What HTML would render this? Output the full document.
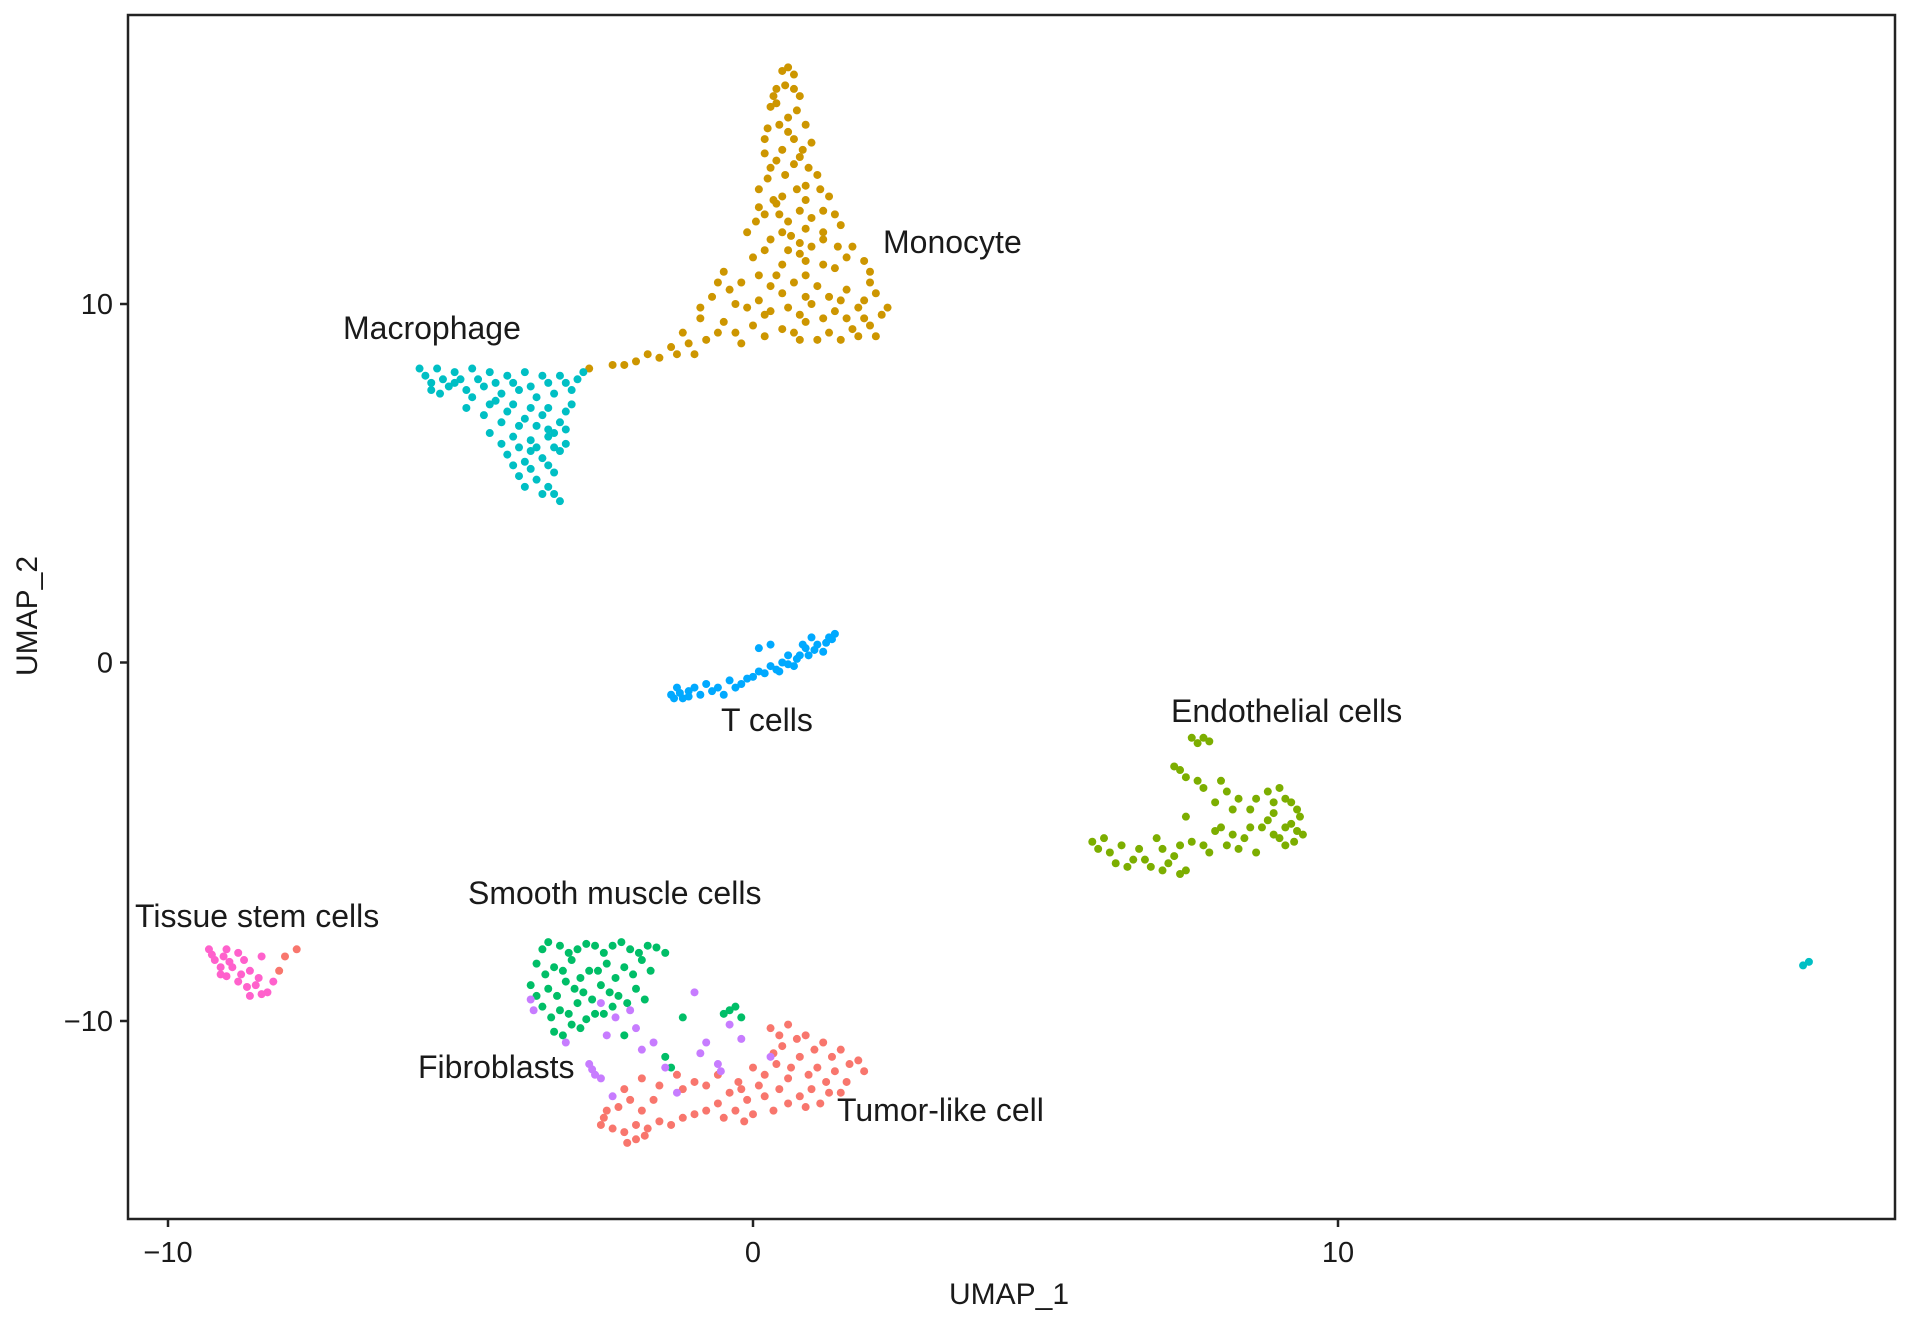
<!DOCTYPE html>
<html><head><meta charset="utf-8"><style>
html,body{margin:0;padding:0;background:#fff;}
svg{display:block;font-family:"Liberation Sans",Arial,sans-serif;}
</style></head><body>
<svg id="chart" width="1913" height="1320" viewBox="0 0 1913 1320">
<rect x="0" y="0" width="1913" height="1320" fill="#fff"/>
<g id="points"></g>
<rect x="128" y="15" width="1767" height="1204" fill="none" stroke="#222" stroke-width="2.5"/>
<g id="axes"></g>
<g font-size="32" fill="#1a1a1a">
<text x="883" y="253">Monocyte</text>
<text x="343" y="339">Macrophage</text>
<text x="721" y="731">T cells</text>
<text x="1171" y="722">Endothelial cells</text>
<text x="468" y="904">Smooth muscle cells</text>
<text x="135" y="927">Tissue stem cells</text>
<text x="418" y="1078">Fibroblasts</text>
<text x="837" y="1121">Tumor-like cell</text>
</g>
<text x="1009" y="1304" font-size="30" text-anchor="middle" fill="#1a1a1a">UMAP_1</text>
<text transform="translate(37,616) rotate(-90)" font-size="30" text-anchor="middle" fill="#1a1a1a">UMAP_2</text>
</svg>
<script>
const xTicks = [-10, 0, 10];
const yTicks = [10, 0, -10];
const monocyte = [[0.5,16.5],[0.7,16.4],[0.4,16],[0.8,15.8],[0.3,15.5],[0.6,15.2],[0.9,15],[0.2,14.6],[0.5,14.3],[1.0,14.5],[0.3,13.8],[0.7,13.9],[1.1,13.6],[0.1,13.2],[0.5,13],[0.9,12.9],[1.3,13],[0.2,12.5],[0.6,12.3],[1.0,12.4],[1.5,12.2],[-0.1,12],[0.3,11.8],[0.8,11.7],[1.2,11.8],[1.7,11.6],[0,11.3],[0.5,11.1],[0.9,11.2],[1.4,11.0],[1.9,11.2],[-0.5,10.9],[-0.2,10.6],[0.3,10.5],[0.7,10.6],[1.1,10.5],[1.6,10.4],[2.0,10.6],[-0.7,10.2],[-0.3,10.0],[0.1,10.1],[0.6,9.9],[1.0,10],[1.4,9.8],[1.8,9.9],[2.2,9.7],[-0.9,9.6],[-0.5,9.5],[0.0,9.4],[0.5,9.3],[0.9,9.5],[1.3,9.2],[1.7,9.3],[2.1,9.1],[-1.2,9.2],[-0.8,9.0],[-1.4,8.8],[-1.0,8.6],[0.8,9.0],[1.5,9.0],[-1.6,8.5],[-2.0,8.4],[-2.4,8.3],[-2.8,8.2],[0.4,15.6],[0.6,14.8],[0.8,14.1],[0.4,12.8],[1.2,12.0],[0.1,10.8],[0.7,16.0],[0.4,14.0],[0.9,13.3],[0.6,11.5],[1.3,10.2],[0.2,9.7],[1.9,10.1],[0.5,12.0],
[0.6,16.6],[0.55,16.1],[0.35,15.8],[0.75,15.4],[0.45,15.0],[0.25,14.9],[0.7,14.6],[0.85,14.3],[0.2,14.2],[0.55,13.6],[0.95,13.8],[0.25,13.5],[0.75,13.2],[1.15,13.2],[0.35,12.9],[0.1,12.7],[0.8,12.6],[1.2,12.6],[0.45,12.5],[0.9,12.1],[1.4,12.5],[0.05,12.3],[0.65,11.9],[1.0,11.6],[1.45,11.6],[0.2,11.5],[0.8,11.4],[1.6,11.3],[2.0,10.9],[1.2,11.1],[0.4,10.8],[0.9,10.8],[-0.4,10.4],[0.5,10.3],[0.9,10.2],[1.5,10.1],[2.1,10.3],[-0.1,9.9],[0.3,9.8],[0.8,9.7],[1.2,9.6],[1.6,9.6],[2.3,9.9],[-0.3,9.2],[0.2,9.1],[0.7,9.2],[1.1,9.0],[1.9,9.6],[2.0,9.4],[-0.6,9.2],[-1.1,8.9],[-0.2,8.9],[1.8,9.1],[-1.8,8.6],[-2.2,8.3],[-1.3,8.6],[-0.6,10.6],[-0.9,9.9]];
const macrophage = [[-5.7,8.2],[-5.4,8.2],[-5.1,8.1],[-4.8,8.2],[-4.5,8.1],[-4.2,8.0],[-3.9,8.1],[-3.6,8.0],[-3.3,8.0],[-3.0,7.9],[-5.5,7.8],[-5.2,7.7],[-4.9,7.6],[-4.6,7.7],[-4.3,7.5],[-4.0,7.6],[-3.7,7.4],[-3.4,7.5],[-3.1,7.2],[-4.9,7.1],[-4.6,6.9],[-4.2,7.0],[-3.9,6.8],[-3.6,6.9],[-3.3,6.7],[-4.5,6.4],[-4.1,6.3],[-3.8,6.2],[-3.5,6.3],[-3.2,6.1],[-4.2,5.8],[-3.9,5.6],[-3.6,5.7],[-3.3,5.9],[-4.0,5.2],[-3.7,5.1],[-3.4,5.3],[-3.6,4.7],[-3.3,4.5],[-3.1,7.6],[-4.4,7.3],[-5.0,7.9],[-3.5,6.5],[-3.8,5.9],
[-5.6,8.0],[-5.3,7.9],[-5.5,7.6],[-5.35,7.5],[-5.1,7.8],[-4.7,7.9],[-4.4,7.8],[-4.1,7.8],[-3.8,7.7],[-3.5,7.8],[-3.2,7.8],[-2.9,8.1],[-4.8,7.4],[-4.5,7.2],[-4.1,7.2],[-3.8,7.1],[-3.5,7.1],[-3.2,7.0],[-4.3,6.7],[-4.0,6.6],[-3.7,6.6],[-3.4,6.4],[-3.2,6.5],[-4.3,6.1],[-4.0,6.0],[-3.7,6.0],[-3.4,6.0],[-4.1,5.5],[-3.8,5.4],[-3.5,5.5],[-3.9,4.9],[-3.5,4.9],[-3.4,4.7],[17.95,-8.45],[18.05,-8.35]];
const tCells = [[-1.4,-0.9],[-1.3,-0.7],[-1.1,-0.8],[-0.9,-0.9],[-0.8,-0.6],[-0.6,-0.7],[-0.4,-0.5],[-0.2,-0.6],[0,-0.4],[0.2,-0.3],[0.4,-0.2],[0.5,0],[0.7,-0.1],[0.8,0.2],[0.9,0.4],[1.1,0.5],[1.2,0.3],[1.4,0.8],[1.3,0.7],[0.1,0.4],[0.3,0.5],[-1.2,-1],[-0.5,-0.9],[0.6,0.2],[1.0,0.7],
[-1.35,-1.0],[-1.25,-0.85],[-1.0,-0.7],[-0.7,-0.8],[-0.3,-0.7],[-0.1,-0.45],[0.1,-0.25],[0.3,-0.1],[0.45,-0.25],[0.6,-0.05],[0.75,0.1],[0.95,0.2],[1.05,0.35],[1.25,0.55],[1.35,0.65],[-1.1,-0.95],[0.85,0.5]];
const endothelial = [[7.5,-2.1],[7.8,-2.2],[7.2,-2.9],[7.4,-3.2],[7.7,-3.5],[8.0,-3.3],[7.9,-3.9],[8.3,-3.8],[8.5,-4.1],[8.8,-3.6],[9.1,-3.8],[9.3,-4.1],[9.2,-4.5],[9.4,-4.8],[9.0,-4.9],[8.7,-4.6],[8.4,-4.9],[8.1,-5.1],[7.8,-5.3],[7.5,-5.0],[7.2,-5.4],[7.0,-5.8],[6.7,-5.5],[6.4,-5.7],[6.1,-5.3],[5.8,-5.0],[6.0,-4.9],[6.9,-4.9],[7.4,-4.3],[8.9,-4.2],[9.1,-5.1],[7.3,-5.9],[6.6,-5.2],[8.6,-5.3],
[7.6,-2.25],[7.7,-2.1],[7.3,-3.0],[7.6,-3.3],[8.1,-3.6],[8.2,-4.1],[8.6,-3.8],[8.9,-3.9],[9.0,-3.5],[9.2,-3.9],[9.35,-4.3],[9.3,-4.7],[9.1,-4.6],[8.9,-4.8],[9.25,-5.0],[8.8,-4.4],[8.5,-4.6],[8.2,-4.8],[7.9,-4.7],[7.7,-5.1],[7.3,-5.1],[7.1,-5.6],[6.8,-5.7],[6.5,-5.5],[6.2,-5.6],[5.9,-5.2],[6.3,-5.1],[7.0,-5.2],[7.4,-5.8],[8.3,-5.2],[8.0,-4.6]];
const smoothMuscle = [[-3.6,-8.0],[-3.3,-7.9],[-3.0,-8.0],[-2.7,-7.9],[-2.4,-7.9],[-2.1,-8.0],[-1.8,-7.9],[-1.5,-8.1],[-3.7,-8.4],[-3.4,-8.5],[-3.1,-8.3],[-2.8,-8.6],[-2.5,-8.4],[-2.2,-8.5],[-1.9,-8.3],[-3.8,-9.0],[-3.5,-9.1],[-3.2,-8.9],[-2.9,-9.2],[-2.6,-9.0],[-2.3,-9.3],[-2.0,-9.1],[-3.6,-9.6],[-3.3,-9.7],[-3.0,-9.5],[-2.7,-9.8],[-2.4,-9.6],[-3.4,-10.3],[-3.1,-10.1],[-0.4,-9.7],[-0.2,-9.9],[-1.5,-11.0],[-2.2,-10.4],
[-3.5,-7.8],[-3.15,-8.1],[-2.85,-7.85],[-2.55,-8.1],[-2.25,-7.8],[-1.95,-8.1],[-1.65,-7.95],[-3.55,-8.7],[-3.25,-8.6],[-2.95,-8.8],[-2.65,-8.6],[-2.35,-8.8],[-2.05,-8.7],[-1.75,-8.6],[-3.7,-9.3],[-3.35,-9.3],[-3.05,-9.1],[-2.75,-9.4],[-2.45,-9.2],[-2.15,-9.5],[-1.85,-9.4],[-3.45,-9.9],[-3.15,-9.8],[-2.85,-9.95],[-2.55,-9.8],[-3.25,-10.4],[-2.95,-10.2],[-0.5,-9.8],[-0.3,-9.6],[-1.4,-11.3],[-1.2,-9.9]];
const fibroblasts = [[-3.8,-9.4],[-3.2,-10.6],[-2.8,-11.2],[-2.7,-11.5],[-2.5,-10.4],[-2.1,-9.7],[-1.9,-10.8],[-1.5,-11.3],[-1.0,-9.2],[-0.8,-10.6],[-0.6,-11.2],[-0.4,-10.1],[-2.4,-12.1],[-1.3,-12.0],[0.3,-11.0],
[-3.75,-9.7],[-2.75,-11.35],[-2.6,-11.6],[-2.35,-9.9],[-2.0,-10.2],[-1.7,-10.6],[-0.9,-10.9],[-0.55,-11.4],[-2.6,-9.5],[-0.2,-10.5]];
const tumor = [[0.3,-10.2],[0.6,-10.1],[0.9,-10.4],[1.2,-10.6],[1.5,-10.8],[1.8,-11.1],[0.5,-10.7],[0.8,-11.0],[1.1,-11.3],[1.4,-11.4],[1.6,-11.7],[0.2,-11.5],[0.6,-11.6],[1.0,-11.9],[1.3,-12.0],[-0.2,-11.9],[0.2,-12.1],[0.6,-12.3],[-0.6,-12.3],[-0.3,-12.5],[0.0,-12.6],[-1.0,-12.6],[-1.4,-12.9],[-1.8,-13.0],[-2.2,-13.1],[-2.6,-12.9],[-2.5,-12.5],[-1.9,-12.5],[-1.0,-11.7],[-0.6,-11.5],[-1.6,-11.8],[-2.2,-11.9],[-2.0,-13.3],[-0.4,-12.0],[0.9,-12.4],[0.4,-11.2],[-8.0,-8.2],[-7.8,-8.0],[-8.1,-8.6],
[0.45,-10.4],[0.75,-10.5],[1.05,-10.8],[1.35,-11.0],[1.65,-11.2],[1.9,-11.4],[0.35,-10.9],[0.65,-11.3],[0.95,-11.5],[1.25,-11.7],[1.5,-12.0],[0.1,-11.8],[0.45,-11.9],[0.8,-12.1],[1.15,-12.3],[-0.1,-12.2],[0.35,-12.5],[-0.8,-12.5],[-0.5,-12.7],[-0.15,-12.8],[-1.2,-12.7],[-1.6,-12.8],[-2.0,-12.9],[-2.4,-13.0],[-2.55,-12.7],[-2.3,-12.4],[-1.7,-12.2],[-1.2,-11.9],[-0.8,-11.8],[-1.3,-11.5],[-1.9,-11.6],[-2.1,-12.2],[-1.85,-13.2],[-2.15,-13.4],[-0.25,-11.7],[0.0,-11.3]];
const tissueStem = [[-9.3,-8.0],[-9.0,-8.0],[-8.8,-8.1],[-9.2,-8.3],[-8.9,-8.5],[-8.6,-8.6],[-8.8,-8.9],[-8.5,-9.0],[-8.3,-9.2],[-8.6,-9.3],[-8.4,-8.2],[-9.1,-8.7],
[-9.25,-8.15],[-9.05,-8.2],[-8.95,-8.35],[-9.1,-8.5],[-8.75,-8.7],[-8.45,-8.8],[-8.65,-9.05],[-8.4,-9.25],[-8.2,-8.9],[-9.0,-8.75],[-8.7,-8.3]];

const NS = 'http://www.w3.org/2000/svg';
function xs(v){ return 753 + v * 58.5; }
function ys(v){ return 662.5 - v * 35.85; }
const groups = [
  ['monocyte', monocyte, '#CD9600'],
  ['macrophage', macrophage, '#00BFC4'],
  ['t-cells', tCells, '#00A9FF'],
  ['endothelial', endothelial, '#7CAE00'],
  ['smooth-muscle', smoothMuscle, '#00BE67'],
  ['tumor-like', tumor, '#F8766D'],
  ['fibroblasts', fibroblasts, '#C77CFF'],
  ['tissue-stem', tissueStem, '#FF61CC']
];
const layer = document.getElementById('points');
groups.forEach(function(g){
  const gg = document.createElementNS(NS, 'g');
  
  
  g[1].forEach(function(p){
    const c = document.createElementNS(NS, 'circle');
    c.setAttribute('cx', xs(p[0]));
    c.setAttribute('cy', ys(p[1]));
    c.setAttribute('r', 4);
    c.setAttribute('fill', g[2]);
    
    
    gg.appendChild(c);
  });
  layer.appendChild(gg);
});
const axes = document.getElementById('axes');
xTicks.forEach(function(t){
  const l = document.createElementNS(NS, 'line');
  l.setAttribute('x1', xs(t)); l.setAttribute('x2', xs(t));
  l.setAttribute('y1', 1219); l.setAttribute('y2', 1227);
  l.setAttribute('stroke', '#222'); l.setAttribute('stroke-width', 2.5);
  
  
  axes.appendChild(l);
  const tx = document.createElementNS(NS, 'text');
  tx.setAttribute('x', xs(t)); tx.setAttribute('y', 1262);
  tx.setAttribute('font-size', 29); tx.setAttribute('text-anchor', 'middle'); tx.setAttribute('fill', '#1a1a1a');
  tx.textContent = t < 0 ? '\u2212' + Math.abs(t) : String(t);
  
  
  axes.appendChild(tx);
});
yTicks.forEach(function(t){
  const l = document.createElementNS(NS, 'line');
  l.setAttribute('x1', 120); l.setAttribute('x2', 128);
  l.setAttribute('y1', ys(t)); l.setAttribute('y2', ys(t));
  l.setAttribute('stroke', '#222'); l.setAttribute('stroke-width', 2.5);
  
  
  axes.appendChild(l);
  const tx = document.createElementNS(NS, 'text');
  tx.setAttribute('x', 113); tx.setAttribute('y', ys(t) + 10);
  tx.setAttribute('font-size', 29); tx.setAttribute('text-anchor', 'end'); tx.setAttribute('fill', '#1a1a1a');
  tx.textContent = t < 0 ? '\u2212' + Math.abs(t) : String(t);
  
  
  axes.appendChild(tx);
});
</script>
</body></html>
